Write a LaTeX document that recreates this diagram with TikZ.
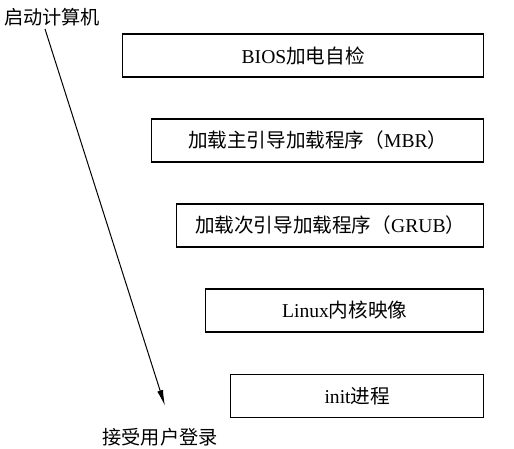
\documentclass[tikz,border=0pt]{standalone}
\usepackage{fontspec}
\setmainfont{Liberation Serif}
\newfontfamily\cjk{Noto Sans CJK SC}
\usetikzlibrary{arrows.meta}
\tikzset{
  stagebox/.style={
    draw, line width=0.7pt, minimum height=21.5pt, anchor=west,
    inner sep=0pt, font=\fontsize{9.8pt}{12pt}\selectfont
  },
  steplabel/.style={inner sep=0pt, font=\fontsize{9.6pt}{12pt}\selectfont\cjk},
  flow/.style={-{Latex[length=8pt,width=3pt]}, line width=0.5pt}
}

\begin{document}
\begin{tikzpicture}[x=0.5pt, y=-0.5pt]
  \useasboundingbox (0,0) rectangle (514,449);
  % boot stages
  \node[stagebox, minimum width=180.5pt] (bios) at (122,55.5) {BIOS{\cjk 加电自检}};
  \node[stagebox, minimum width=166pt] (mbr) at (151,140.5) {{\cjk 加载主引导加载程序（}MBR{\cjk ）}};
  \node[stagebox, minimum width=153.5pt] (grub) at (176,225.5) {{\cjk 加载次引导加载程序（}GRUB{\cjk ）}};
  \node[stagebox, minimum width=139pt] (kernel) at (205,310.5) {Linux{\cjk 内核映像}};
  \node[stagebox, minimum width=126.5pt] (init) at (230,396) {init{\cjk 进程}};
  % start and end
  \node[steplabel] (start) at (52,17) {启动计算机};
  \node[steplabel] (login) at (160,437) {接受用户登录};
  \coordinate (from) at (45,29);
  \coordinate (to) at (165,406);
  \draw[flow] (from) -- (to);
\end{tikzpicture}
\end{document}
